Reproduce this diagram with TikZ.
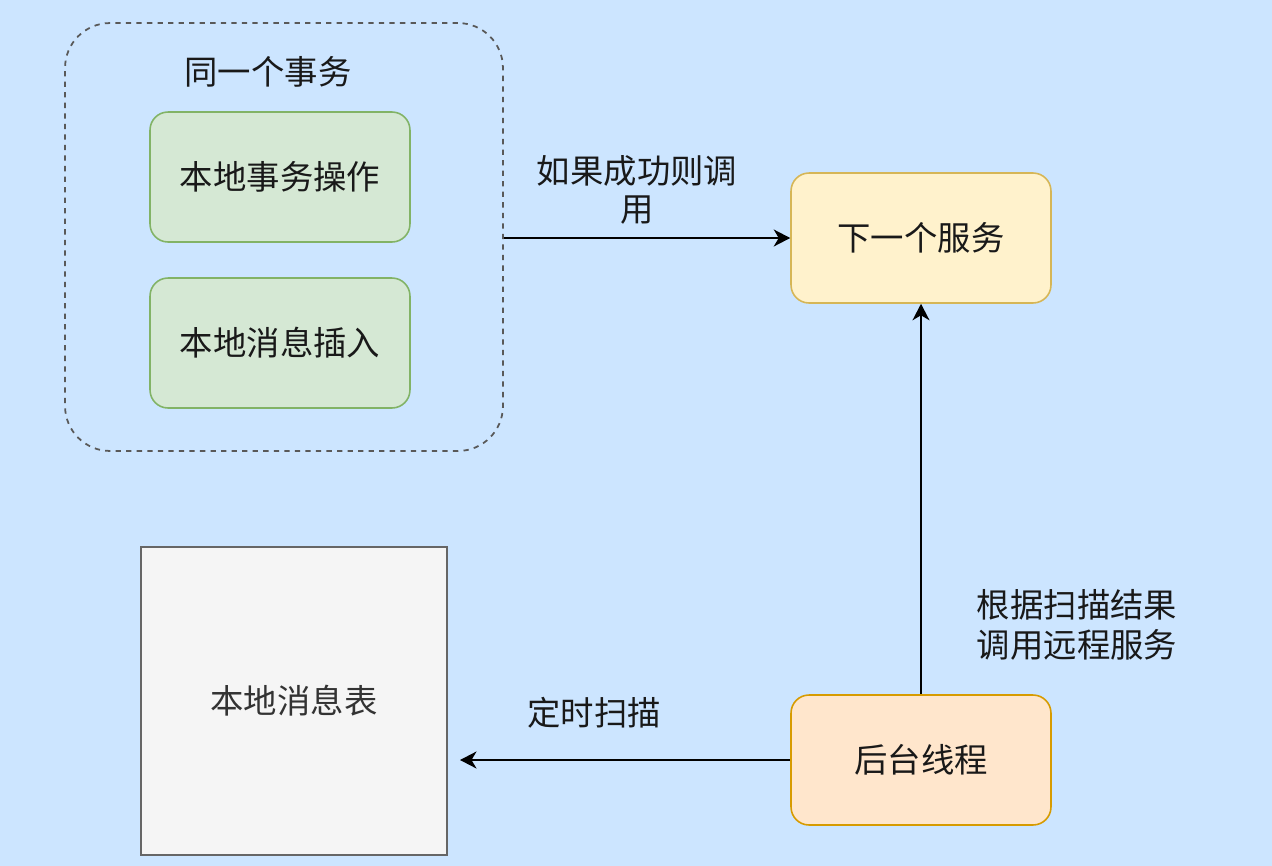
\documentclass[tikz,border=0pt]{standalone}
\usepackage{fontspec}
\newfontfamily\cjk{Noto Sans CJK SC}
\usetikzlibrary{arrows.meta}
\definecolor{bgblue}{HTML}{CCE5FF}
\definecolor{greenfill}{HTML}{D5E8D4}
\definecolor{greenline}{HTML}{82B366}
\definecolor{yellowfill}{HTML}{FFF2CC}
\definecolor{yellowline}{HTML}{D6B656}
\definecolor{orangefill}{HTML}{FFE6CC}
\definecolor{orangeline}{HTML}{D79B00}
\definecolor{greyfill}{HTML}{F5F5F5}
\definecolor{greyline}{HTML}{666666}

\begin{document}
\begin{tikzpicture}[x=0.02cm, y=-0.02cm,
    every node/.style={font=\cjk\fontsize{19}{22}\selectfont, text=black!90},
    box/.style={draw, line width=0.9pt, rounded corners=0.36cm,
      minimum width=5.2cm, minimum height=2.6cm},
    greenbox/.style={box, fill=greenfill, draw=greenline},
    yellowbox/.style={box, fill=yellowfill, draw=yellowline},
    orangebox/.style={box, fill=orangefill, draw=orangeline},
    arr/.style={-{Stealth[length=0.33cm, width=0.34cm, inset=0.1cm]}, line width=1.1pt}]
  \fill[bgblue] (0,0) rectangle (1272,866);
  \node[draw=black!65, dashed, line width=1pt, rounded corners=0.9cm,
    minimum width=8.76cm, minimum height=8.56cm] (trans) at (284,237) {};
  \node (translabel) at (268,72) {同一个事务};
  \node[greenbox] (op) at (280,177) {本地事务操作};
  \node[greenbox] (ins) at (280,343) {本地消息插入};
  \node[yellowbox] (next) at (921,238) {下一个服务};
  \node[orangebox] (worker) at (921,760) {后台线程};
  \node[draw=greyline, fill=greyfill, line width=0.9pt, text=black!80,
    minimum width=6.12cm, minimum height=6.16cm] (table) at (294,701) {本地消息表};
  \coordinate (scanend) at (460,760);

  \draw[arr] (trans.east |- next) -- (next.west);
  \draw[arr] (worker) -- (next);
  \draw[arr] (worker) -- (scanend);
  \node[align=center] (calllabel) at (637,190) {如果成功则调\\用};
  \node[align=center, font=\cjk\fontsize{19}{23}\selectfont] (remotelabel) at (1077,625) {根据扫描结果\\调用远程服务};
  \node (scanlabel) at (594,713) {定时扫描};
\end{tikzpicture}
\end{document}
